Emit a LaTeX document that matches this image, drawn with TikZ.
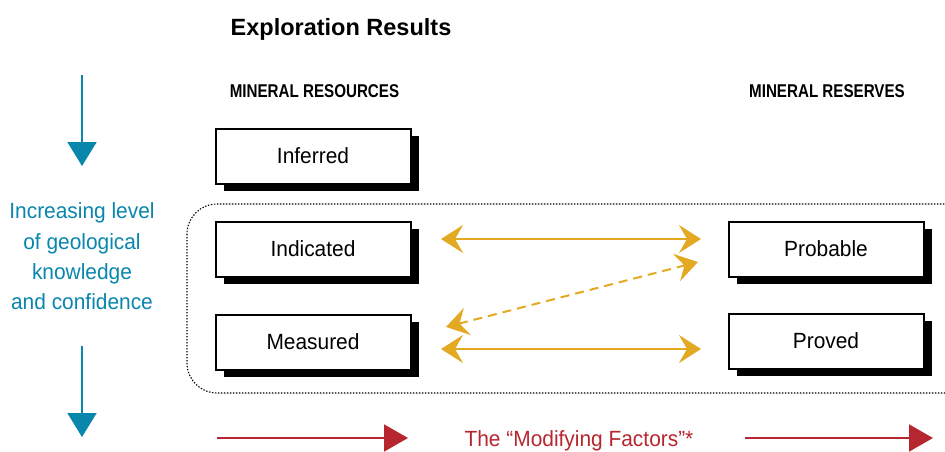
\documentclass[tikz,border=0pt]{standalone}
\usepackage{fontspec}
\setmainfont{Liberation Sans}
\newfontfamily\boxfont[FakeStretch=0.95]{Liberation Sans}
\newfontfamily\headfont[FakeStretch=0.82]{Liberation Sans}
\usetikzlibrary{arrows.meta,shadows}
\definecolor{teal1}{RGB}{8,134,172}
\definecolor{gold1}{RGB}{228,169,35}
\definecolor{red1}{RGB}{182,38,46}
\tikzset{
  txt/.style={inner sep=0pt, text height=15.75pt, text depth=0pt, font=\boxfont\fontsize{22}{26}\selectfont},
  resbox/.style={draw=black, line width=2pt, fill=white, minimum width=195pt, minimum height=55pt,
    inner sep=0pt, text height=15.75pt, text depth=0pt, font=\boxfont\fontsize{22}{26}\selectfont,
    drop shadow={shadow xshift=8pt, shadow yshift=-7pt, fill=black, opacity=1}},
  heading/.style={inner sep=0pt, text height=12.9pt, text depth=0pt, font=\headfont\bfseries\fontsize{18.5}{22}\selectfont},
  yarrow/.style={draw=gold1, line width=2pt, {Stealth[length=22pt,width=28pt,inset=8pt]}-{Stealth[length=22pt,width=28pt,inset=8pt]}},
  ydash/.style={draw=gold1, line width=2pt, dash pattern=on 9pt off 6pt, {Stealth[length=22pt,width=28pt,inset=8pt]}-{Stealth[length=22pt,width=28pt,inset=8pt]}},
  tarrow/.style={draw=teal1, line width=2pt, -{Triangle[length=24pt,width=29pt]}},
  rarrow/.style={draw=red1, line width=2pt, -{Triangle[length=24pt,width=27pt]}},
  dotbox/.style={draw=black, line width=1.1pt, dash pattern=on 1.4pt off 1.6pt, rounded corners=30pt}
}
\begin{document}
\begin{tikzpicture}[x=1pt,y=-1pt]
\useasboundingbox (0,0) rectangle (945,452);
\begin{scope}
\clip (0,0) rectangle (945,452);
\draw[dotbox] (187,204) rectangle (975,393);
\end{scope}

\node[inner sep=0pt, text height=16.8pt, text depth=0pt, font=\bfseries\fontsize{23.5}{28}\selectfont] (title) at (341,27) {Exploration Results};
\node[heading] (hres) at (314.5,91) {MINERAL RESOURCES};
\node[heading] (hresv) at (827,91) {MINERAL RESERVES};

\node[resbox] (inferred) at (313,156) {Inferred};
\node[resbox] (indicated) at (313,249) {Indicated};
\node[resbox] (measured) at (313,342) {Measured};
\node[resbox] (probable) at (826,249) {Probable};
\node[resbox] (proved) at (826,341) {Proved};

\coordinate (a1l) at (441,239);
\coordinate (a1r) at (701,239);
\coordinate (a2l) at (441,349);
\coordinate (a2r) at (701,349);
\coordinate (dl) at (446,327);
\coordinate (dr) at (698,262);
\draw[yarrow] (a1l) -- (a1r);
\draw[yarrow] (a2l) -- (a2r);
\draw[ydash] (dl) -- (dr);

\coordinate (t1s) at (82,75);
\coordinate (t1e) at (82,166);
\coordinate (t2s) at (82,346);
\coordinate (t2e) at (82,437);
\draw[tarrow] (t1s) -- (t1e);
\draw[tarrow] (t2s) -- (t2e);
\node[txt, text=teal1] (k1) at (82,211) {Increasing level};
\node[txt, text=teal1] (k2) at (82,242) {of geological};
\node[txt, text=teal1] (k3) at (82,272) {knowledge};
\node[txt, text=teal1] (k4) at (82,302) {and confidence};

\node[txt, text=red1] (mf) at (579,439) {The “Modifying Factors”*};
\coordinate (r1s) at (217,438);
\coordinate (r1e) at (408,438);
\coordinate (r2s) at (745,438);
\coordinate (r2e) at (933,438);
\draw[rarrow] (r1s) -- (r1e);
\draw[rarrow] (r2s) -- (r2e);
\end{tikzpicture}
\end{document}
